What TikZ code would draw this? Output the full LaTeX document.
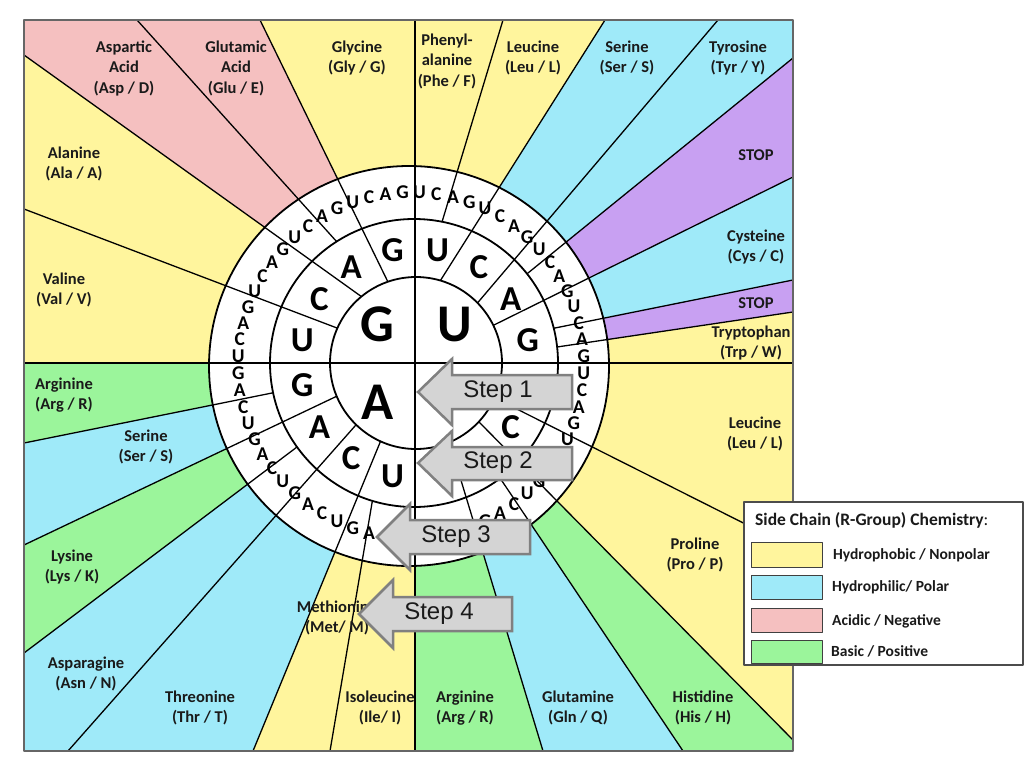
\documentclass[tikz,border=0pt]{standalone}
\usepackage{fontspec}
\setmainfont{Carlito}
\newfontfamily\arialfont{Liberation Sans}
\usetikzlibrary{calc}
\definecolor{yel}{HTML}{FFF59D}
\definecolor{blu}{HTML}{9FEAF9}
\definecolor{pnk}{HTML}{F5C0C0}
\definecolor{grn}{HTML}{9BF59B}
\definecolor{pur}{HTML}{C8A0F2}
\definecolor{framec}{HTML}{666666}
\definecolor{arrgray}{HTML}{808080}
\definecolor{arrfill}{HTML}{D4D4D4}
\definecolor{txt}{HTML}{1A1A1A}
% letters fully hidden behind the step arrows
\expandafter\def\csname hideC\endcsname{}
\expandafter\def\csname hideCU\endcsname{}
\expandafter\def\csname hideCA\endcsname{}
\expandafter\def\csname hideCG\endcsname{}
\expandafter\def\csname hideCGU\endcsname{}
\expandafter\def\csname hideCGC\endcsname{}
\expandafter\def\csname hideCGA\endcsname{}
\expandafter\def\csname hideCGG\endcsname{}
\expandafter\def\csname hideCCC\endcsname{}
\expandafter\def\csname hideCCA\endcsname{}
\expandafter\def\csname hideAUU\endcsname{}
\expandafter\def\csname hideAUC\endcsname{}
\begin{document}
\begin{tikzpicture}[x=1pt,y=-1pt,line join=round,
  lbl/.style={font=\bfseries\fontsize{16.5}{20.5}\selectfont,align=center,inner sep=0pt,text=txt},
  wline/.style={draw=black,line width=1.3pt},
  ring/.style={draw=black,line width=1.8pt},
  bigl/.style={font=\bfseries\fontsize{53}{53}\selectfont,inner sep=0pt},
  midl/.style={font=\bfseries\fontsize{35}{35}\selectfont,inner sep=0pt},
  outl/.style={font=\bfseries\fontsize{19.5}{19.5}\selectfont,inner sep=0pt},
  steparr/.style={draw=arrgray,fill=arrfill,line width=2.5pt,line join=miter},
  steptxt/.style={font=\arialfont\fontsize{24}{28}\selectfont,inner sep=0pt,text=txt},
  swatch/.style={draw=black!75,line width=1pt},
  legtxt/.style={font=\bfseries\fontsize{15.5}{18}\selectfont,anchor=west,inner sep=0pt,text=txt}]
\useasboundingbox (0,0) rectangle (1024,768);
% line start / end points
\coordinate (s0) at (415,363); \coordinate (e0) at (415,20);
\coordinate (s1) at (442,222); \coordinate (e1) at (503,20);
\coordinate (s2) at (442,278); \coordinate (e2) at (605,20);
\coordinate (s3) at (480,300); \coordinate (e3) at (718,20);
\coordinate (s4) at (528,273); \coordinate (e4) at (793,58);
\coordinate (s5) at (496,324); \coordinate (e5) at (793,177);
\coordinate (s6) at (555,328); \coordinate (e6) at (793,280);
\coordinate (s7) at (557,347); \coordinate (e7) at (793,312);
\coordinate (s8) at (415,363); \coordinate (e8) at (793,363);
\coordinate (s9) at (493,397); \coordinate (e9) at (793,548);
\coordinate (s10) at (480,423); \coordinate (e10) at (793,740);
\coordinate (s11) at (500,478); \coordinate (e11) at (683,751);
\coordinate (s12) at (450,444); \coordinate (e12) at (543,751);
\coordinate (s13) at (415,363); \coordinate (e13) at (415,751);
\coordinate (s14) at (372,503); \coordinate (e14) at (330,751);
\coordinate (s15) at (379,445); \coordinate (e15) at (253,751);
\coordinate (s16) at (355,426); \coordinate (e16) at (68,751);
\coordinate (s17) at (293,450); \coordinate (e17) at (24,653);
\coordinate (s18) at (333,398); \coordinate (e18) at (24,545);
\coordinate (s19) at (272,393); \coordinate (e19) at (24,443);
\coordinate (s20) at (415,363); \coordinate (e20) at (24,363);
\coordinate (s21) at (337,328); \coordinate (e21) at (24,209);
\coordinate (s22) at (362,297); \coordinate (e22) at (24,55);
\coordinate (s23) at (337,242); \coordinate (e23) at (137,20);
\coordinate (s24) at (387,280); \coordinate (e24) at (260,20);
\coordinate (tl) at (24,20); \coordinate (tr) at (793,20);
\coordinate (br) at (793,751); \coordinate (bl) at (24,751);
% background colours
\fill[yel] (tl) rectangle (br);
\fill[blu] (s2) -- (e2) -- (e3) -- (s3) -- cycle;
\fill[blu] (s3) -- (e3) -- (tr) -- (e4) -- (s4) -- cycle;
\fill[pur] (s4) -- (e4) -- (e5) -- (s5) -- cycle;
\fill[blu] (s5) -- (e5) -- (e6) -- (s6) -- cycle;
\fill[pur] (s6) -- (e6) -- (e7) -- (s7) -- cycle;
\fill[grn] (s10) -- (e10) -- (br) -- (e11) -- (s11) -- cycle;
\fill[blu] (s11) -- (e11) -- (e12) -- (s12) -- cycle;
\fill[grn] (s12) -- (e12) -- (e13) -- (s13) -- cycle;
\fill[blu] (s15) -- (e15) -- (e16) -- (s16) -- cycle;
\fill[blu] (s16) -- (e16) -- (bl) -- (e17) -- (s17) -- cycle;
\fill[grn] (s17) -- (e17) -- (e18) -- (s18) -- cycle;
\fill[blu] (s18) -- (e18) -- (e19) -- (s19) -- cycle;
\fill[grn] (s19) -- (e19) -- (e20) -- (s20) -- cycle;
\fill[pnk] (s22) -- (e22) -- (tl) -- (e23) -- (s23) -- cycle;
\fill[pnk] (s23) -- (e23) -- (e24) -- (s24) -- cycle;
% wheel
\fill[white] (409,366) circle[radius=200pt];
\foreach \n in {1,4,6,7,11,14,17,19,23}{\draw[wline] ($(e\n)!1.08!(s\n)$) -- (e\n);}
\fill[white] (414,363) circle[radius=144pt];
\foreach \n in {2,3,5,9,10,12,15,16,18,21,22,24}{\draw[wline] ($(e\n)!1.08!(s\n)$) -- (e\n);}
\fill[white] (416,363) circle[radius=86pt];
\draw[wline] (e0) -- (e13);
\draw[wline] (e20) -- (e8);
\draw[ring] (409,366) circle[radius=200pt];
\draw[ring] (414,363) circle[radius=144pt];
\draw[ring] (416,363) circle[radius=86pt];
% bases
\foreach \st/\fb in {180/G,90/U,0/C,-90/A}{
  \ifcsname hide\fb\endcsname\else
  \node[bigl] (c\fb) at ({416+55*cos(\st-45)},{363-55*sin(\st-45)}) {\fb};
  \fi
  \foreach \sb [count=\i from 0] in {U,C,A,G}{
    \ifcsname hide\fb\sb\endcsname\else
    \node[midl] (m\fb\sb) at ({415+115*cos(\st-\i*22.5-11.25)},{363-115*sin(\st-\i*22.5-11.25)}) {\sb};
    \fi
    \foreach \tb [count=\k from 0] in {U,C,A,G}{
      \ifcsname hide\fb\sb\tb\endcsname\else
      \node[outl] (o\fb\sb\tb) at ({411+173*cos(\st-\i*22.5-\k*5.625-2.8125)},{365-173*sin(\st-\i*22.5-\k*5.625-2.8125)}) {\tb};
      \fi
    }
  }
}
% amino acid labels
\node[lbl] (asp) at (124,68) {Aspartic\\Acid\\(Asp / D)};
\node[lbl] (glu) at (236,68) {Glutamic\\Acid\\(Glu / E)};
\node[lbl] (gly) at (357,58) {Glycine\\(Gly / G)};
\node[lbl] (phe) at (447,61) {Phenyl-\\alanine\\(Phe / F)};
\node[lbl] (leu1) at (533,58) {Leucine\\(Leu / L)};
\node[lbl] (ser1) at (627,58) {Serine\\(Ser / S)};
\node[lbl] (tyr) at (738,58) {Tyrosine\\(Tyr / Y)};
\node[lbl] (stop1) at (756,155) {STOP};
\node[lbl] (cys) at (756,247) {Cysteine\\(Cys / C)};
\node[lbl] (stop2) at (756,303) {STOP};
\node[lbl] (trp) at (751,343) {Tryptophan\\(Trp / W)};
\node[lbl] (leu2) at (755,434) {Leucine\\(Leu / L)};
\node[lbl] (pro) at (695,555) {Proline\\(Pro / P)};
\node[lbl] (his) at (703,708) {Histidine\\(His / H)};
\node[lbl] (gln) at (578,708) {Glutamine\\(Gln / Q)};
\node[lbl] (arg1) at (465,708) {Arginine\\(Arg / R)};
\node[lbl] (ile) at (380,708) {Isoleucine\\(Ile/ I)};
\node[lbl] (thr) at (200,708) {Threonine\\(Thr / T)};
\node[lbl] (met) at (337,618) {Methionine\\(Met/ M)};
\node[lbl] (asn) at (86,674) {Asparagine\\(Asn / N)};
\node[lbl] (lys) at (72,567) {Lysine\\(Lys / K)};
\node[lbl] (ser2) at (146,447) {Serine\\(Ser / S)};
\node[lbl] (arg2) at (64,395) {Arginine\\(Arg / R)};
\node[lbl] (val) at (64,290) {Valine\\(Val / V)};
\node[lbl] (ala) at (74,164) {Alanine\\(Ala / A)};
% frame
\draw[draw=framec,line width=1.5pt] (tl) rectangle (br);
% step arrows
\draw[steparr] (418,392) -- (452,359) -- (452,375) -- (572,375) -- (572,409) -- (452,409) -- (452,425) -- cycle;
\node[steptxt] (st1) at (498,392) {Step 1};
\draw[steparr] (418,463) -- (452,431) -- (452,447) -- (572,447) -- (572,480) -- (452,480) -- (452,496) -- cycle;
\node[steptxt] (st2) at (498,463) {Step 2};
\draw[steparr] (377,537) -- (410,504) -- (410,520) -- (530,520) -- (530,554) -- (410,554) -- (410,570) -- cycle;
\node[steptxt] (st3) at (456,537) {Step 3};
\draw[steparr] (359,614) -- (393,580) -- (393,597) -- (512,597) -- (512,631) -- (393,631) -- (393,648) -- cycle;
\node[steptxt] (st4) at (439,614) {Step 4};
% legend
\draw[draw=black!70,fill=white,line width=1.2pt] (744,502) rectangle (1023,665);
\node[anchor=west,inner sep=0pt,text=txt,font=\fontsize{17.5}{20}\selectfont] (legtitle) at (755,520) {\bfseries Side Chain (R-Group) Chemistry\mdseries:};
\draw[swatch,fill=yel] (751,542) rectangle (822,567);
\draw[swatch,fill=blu] (751,575) rectangle (822,599);
\draw[swatch,fill=pnk] (751,608) rectangle (822,632);
\draw[swatch,fill=grn] (751,640) rectangle (822,663);
\node[legtxt] (lg1) at (833,555) {Hydrophobic / Nonpolar};
\node[legtxt] (lg2) at (832,587) {Hydrophilic/ Polar};
\node[legtxt] (lg3) at (832,621) {Acidic / Negative};
\node[legtxt] (lg4) at (831,651) {Basic / Positive};
\end{tikzpicture}
\end{document}
